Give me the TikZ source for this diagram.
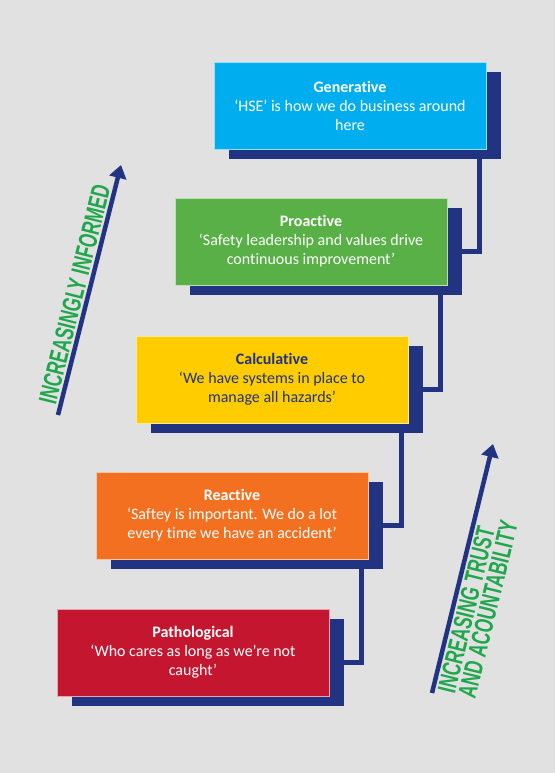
\documentclass[tikz,border=0pt]{standalone}
\usepackage{fontspec}
\setmainfont{Carlito}[Ligatures=NoCommon]
\newfontfamily\condfont[FakeStretch=0.66]{Liberation Sans Bold}
\usepackage{xcolor}
\usepackage{tikz}
\usetikzlibrary{shapes,arrows.meta,positioning,backgrounds,calc}
\definecolor{pagegray}{HTML}{E1E1E1}
\definecolor{navy}{HTML}{213381}
\definecolor{genblue}{HTML}{00AEEF}
\definecolor{progreen}{HTML}{58B046}
\definecolor{calcyellow}{HTML}{FFCC00}
\definecolor{reacorange}{HTML}{F37021}
\definecolor{pathred}{HTML}{C4172F}
\definecolor{labelgreen}{HTML}{1FA74B}

\begin{document}
\begin{tikzpicture}[x=1pt, y=-1pt,
  level/.style={draw=white!60!#1, line width=0.6pt, fill=#1, rectangle, minimum width=272pt, minimum height=87pt, inner sep=0pt, text=white, align=center, font=\fontsize{16}{19}\selectfont},
  shadowbox/.style={fill=navy, rectangle, minimum width=272pt, minimum height=87pt, inner sep=0pt},
  link/.style={draw=navy, line width=5pt},
  trend/.style={draw=navy, line width=4.5pt, -{Triangle[length=13pt, width=17pt]}},
  trendlabel/.style={text=labelgreen, font=\condfont\fontsize{26}{21}\selectfont, inner sep=2pt}
]
  \useasboundingbox[fill=pagegray] (0,0) rectangle (555,773);

  % shadows behind the levels
  \node[shadowbox] (genshd)  at (365,115.5) {};
  \node[shadowbox] (proshd)  at (326,251.5) {};
  \node[shadowbox] (calcshd) at (287,389.5) {};
  \node[shadowbox] (reashd)  at (247,525.5) {};
  \node[shadowbox] (patshd)  at (208,662.5) {};

  % stepping connectors
  \draw[link] ([xshift=-22pt]genshd.south east)  |- (proshd.east);
  \draw[link] ([xshift=-22pt]proshd.south east)  |- (calcshd.east);
  \draw[link] ([xshift=-22pt]calcshd.south east) |- (reashd.east);
  \draw[link] ([xshift=-22pt]reashd.south east)  |- (patshd.east);

  \node[level=genblue]    (gen)  at (350,105.5) {\textbf{Generative}\\‘HSE’ is how we do business around\\here};
  \node[level=progreen]   (pro)  at (311,241.5) {\textbf{Proactive}\\‘Safety leadership and values drive\\continuous improvement’};
  \node[level=calcyellow, text=navy] (calc) at (272,379.5) {\textbf{Calculative}\\‘We have systems in place to\\manage all hazards’};
  \node[level=reacorange] (rea)  at (232,515.5) {\textbf{Reactive}\\‘Saftey is important. We do a lot\\every time we have an accident’};
  \node[level=pathred]    (pat)  at (193,652.5) {\textbf{Pathological}\\‘Who cares as long as we’re not\\caught’};

  % trend arrows
  \coordinate (infotail)  at (58,415);
  \coordinate (infotip)   at (121,165);
  \coordinate (trusttail) at (432,693);
  \coordinate (trusttip)  at (493,444);

  \draw[trend] (infotail) -- (infotip)
    node[trendlabel, pos=0.47, sloped, above] (info) {INCREASINGLY INFORMED};
  \draw[trend] (trusttail) -- (trusttip)
    node[trendlabel, pos=0.0, sloped, anchor=north west, align=left] (trust) {INCREASING TRUST\\AND ACOUNTABILITY};
\end{tikzpicture}
\end{document}
